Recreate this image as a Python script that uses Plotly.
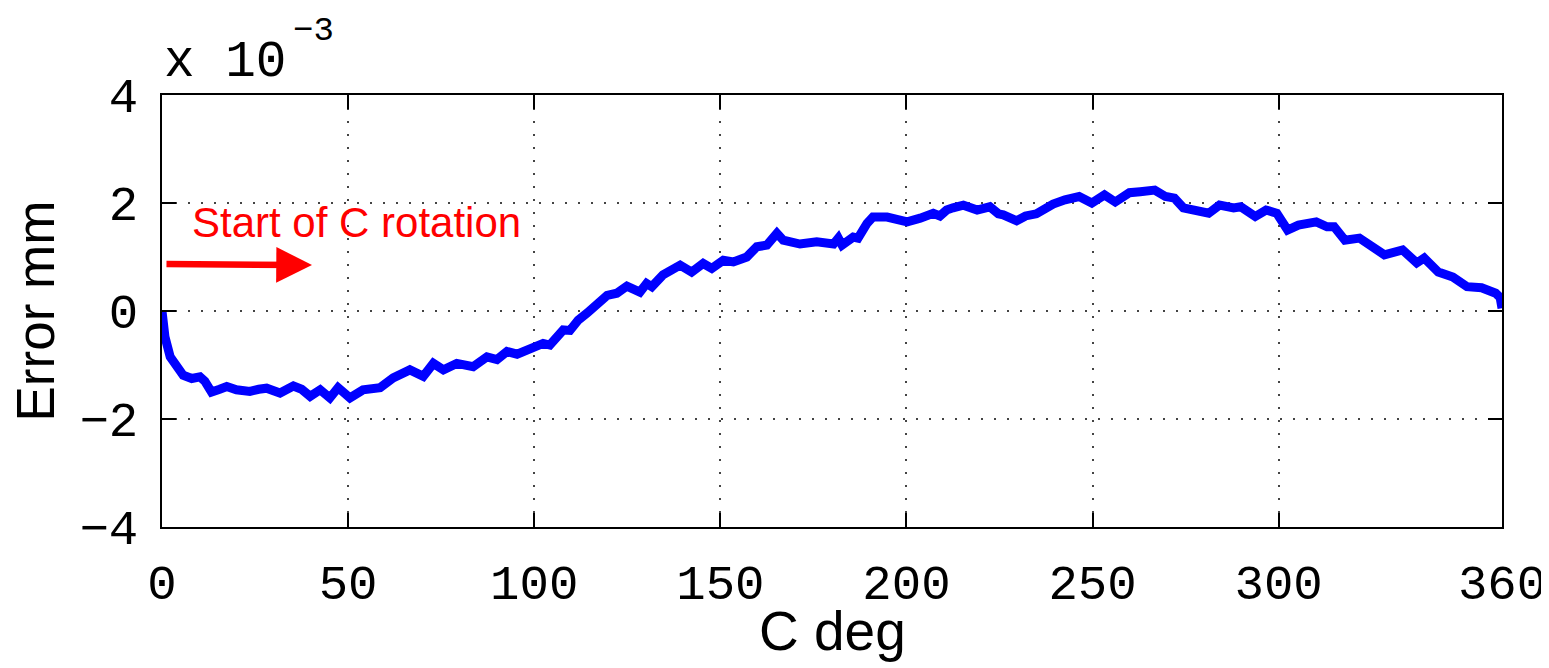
import plotly.graph_objects as go

# C rotation angle (deg) and error (units of 1e-3 mm)
C_DEG = [0, 0.3, 0.8, 2.2, 4, 5.7, 8, 10.2, 11.5, 13.3, 15.5, 17.4, 20, 23.6, 26, 28.1,
         31.7, 35.3, 37.5, 39.8, 42.5, 45.1, 47.3, 50.5, 54, 58.6, 62.1, 66.6, 70.2,
         72.9, 75.6, 79.2, 83.6, 87.3, 90, 92.7, 95.4, 98, 100.7, 102.4, 104.2, 107.8,
         109.6, 111.8, 114.2, 116.8, 119.6, 122.2, 124.9, 128.4, 130.2, 131.6, 134.6,
         139.2, 142.3, 145.4, 147.7, 150.8, 153.5, 157.1, 159.8, 162.5, 165.2, 166.9,
         171.4, 175.9, 180.4, 181.7, 182.7, 185.7, 187, 189.4, 191, 194.8, 200.2, 203.7,
         207.2, 209, 210.8, 212.5, 215.3, 219, 222.4, 224.7, 226, 229.6, 232, 234.9,
         237.7, 239.4, 242.6, 246.4, 249.8, 253.2, 256.1, 259.9, 262.8, 266.7, 269.6,
         272, 274.4, 278.3, 281.2, 284.1, 287.9, 289.8, 293.7, 296.6, 299.5, 302.4,
         305.3, 310.1, 313, 314.9, 317.8, 321.7, 325.5, 328.4, 333.3, 337.1, 339.1,
         342.9, 346.8, 350.6, 354.5, 358.3, 359.5, 360]
ERROR_E3 = [0.0, -0.25, -0.48, -0.85, -1.05, -1.19, -1.25, -1.22, -1.3, -1.5, -1.45, -1.40,
            -1.46, -1.49, -1.45, -1.43, -1.52, -1.39, -1.45, -1.58, -1.46, -1.61, -1.42,
            -1.61, -1.46, -1.42, -1.24, -1.09, -1.21, -0.97, -1.09, -0.97, -1.03, -0.85,
            -0.90, -0.75, -0.80, -0.72, -0.62, -0.60, -0.63, -0.35,
            -0.36, -0.17, -0.04, 0.14, 0.29, 0.33, 0.46, 0.35, 0.51, 0.45, 0.67,
            0.85, 0.72, 0.88, 0.79, 0.94, 0.91, 1.00, 1.19, 1.22, 1.44, 1.31,
            1.24, 1.28, 1.24, 1.35, 1.22, 1.37, 1.35, 1.62, 1.74, 1.74, 1.65, 1.72,
            1.81, 1.76, 1.87, 1.91, 1.96, 1.87, 1.93, 1.80, 1.78, 1.67, 1.76, 1.80,
            1.94, 1.98, 2.06, 2.12, 2.00, 2.15, 2.02, 2.19, 2.21, 2.24, 2.12,
            2.09, 1.91, 1.87, 1.81, 1.96, 1.91, 1.93, 1.75, 1.87, 1.81, 1.50,
            1.59, 1.65, 1.56, 1.56, 1.31, 1.35, 1.19, 1.04, 1.13, 0.89, 0.98,
            0.72, 0.63, 0.45, 0.43, 0.33, 0.25, 0.05]

X_TICKS = [0, 50, 100, 150, 200, 250, 300, 360]
Y_TICKS = [-4, -2, 0, 2, 4]

ARROW_START = (0.8, 0.87)
ARROW_END = (40.3, 0.85)

MONO = "Liberation Mono"
SANS = "Liberation Sans, Arial"

fig = go.Figure()
fig.add_trace(go.Scatter(x=C_DEG, y=ERROR_E3, mode="lines",
                         line=dict(color="#0000FF", width=9), showlegend=False))

axis_common = dict(showline=True, linecolor="black", linewidth=2, mirror="ticks",
                   ticks="inside", ticklen=14, tickwidth=1.5, tickcolor="black",
                   showgrid=True, gridcolor="#444444", griddash="2px,11px", gridwidth=1.5,
                   zeroline=False, automargin=False, ticklabeloverflow="allow",
                   tickfont=dict(family=MONO, size=49, color="black"))

fig.update_xaxes(range=[0, 360], tickvals=X_TICKS, ticktext=[str(v) for v in X_TICKS],
                 ticklabelstandoff=11, **axis_common)
fig.update_yaxes(range=[-4, 4], tickvals=Y_TICKS, ticklabelstandoff=12, **axis_common)

fig.add_annotation(x=ARROW_END[0], y=ARROW_END[1], ax=ARROW_START[0], ay=ARROW_START[1],
                   xref="x", yref="y", axref="x", ayref="y", text="", showarrow=True,
                   arrowhead=2, arrowsize=1.1, arrowwidth=6.5, arrowcolor="#FF0000")
fig.add_annotation(x=7.5, y=1.63, xref="x", yref="y", xanchor="left", yanchor="middle",
                   text="Start of C rotation", showarrow=False,
                   font=dict(family=SANS, size=42, color="#FF0000"))

fig.add_annotation(x=0.5, y=0, xref="paper", yref="paper", yanchor="top", yshift=-71,
                   text="C deg", showarrow=False, font=dict(family=SANS, size=55, color="black"))
fig.add_annotation(x=0, y=0.5, xref="paper", yref="paper", xanchor="right", xshift=-96,
                   text="Error mm", textangle=-90, showarrow=False,
                   font=dict(family=SANS, size=53, color="black"))
fig.add_annotation(x=0, y=1, xref="paper", yref="paper", xanchor="left", yanchor="bottom",
                   xshift=0, yshift=2, text="x 10", showarrow=False,
                   font=dict(family=MONO, size=51, color="black"))
fig.add_annotation(x=0, y=1, xref="paper", yref="paper", xanchor="left", yanchor="bottom",
                   xshift=129, yshift=43, text="\u22123", showarrow=False,
                   font=dict(family=MONO, size=34, color="black"))

# the page body has an 8px margin, so the figure is sized to fit the 1549x668 window
fig.update_layout(width=1541, height=660, margin=dict(l=154, r=47, t=87, b=141),
                  plot_bgcolor="white", paper_bgcolor="white")

fig.write_html("out.html")
